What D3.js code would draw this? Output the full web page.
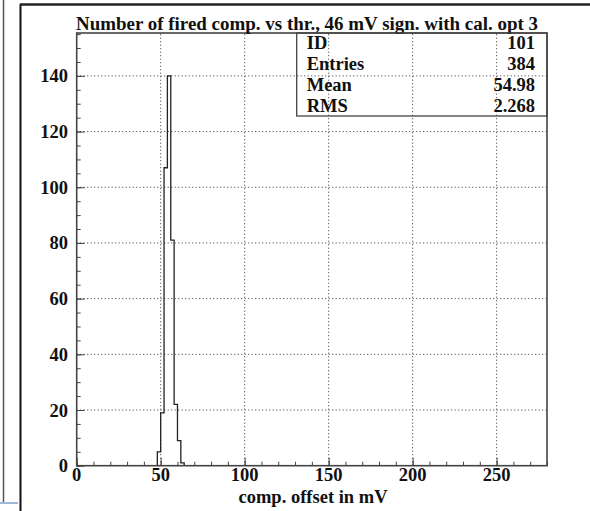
<!DOCTYPE html>
<html>
<head>
<meta charset="utf-8">
<script src="https://cdn.jsdelivr.net/npm/d3@7"></script>
<style>
  body { margin: 0; background: #fff; }
  svg { display: block; }
  text { font-family: "Liberation Serif", "Times New Roman", serif; font-weight: bold; fill: #111; }
</style>
</head>
<body>
<svg id="chart" width="590" height="511"></svg>
<script>
// histogram data (bin width 2 mV)
const binLow = [48, 50, 52, 54, 56, 58, 60, 62];
const counts = [5, 19, 107, 140, 81, 22, 9, 1];
const binWidth = 2;

// tick labels
const xMajor = [0, 50, 100, 150, 200, 250];
const yMajor = [0, 20, 40, 60, 80, 100, 120, 140];

// stats box
const statLabels = ["ID", "Entries", "Mean", "RMS"];
const statValues = ["101", "384", "54.98", "2.268"];

const title = "Number of fired comp. vs thr., 46 mV sign. with cal. opt 3";
const xTitle = "comp. offset in mV";

const svg = d3.select("#chart");

// frame position
const fLeft = 76.7, fRight = 547, fTop = 33, fBottom = 465.7;

const xScale = d3.scaleLinear().domain([0, 280]).range([fLeft, fRight]);
const yScale = d3.scaleLinear().domain([0, 155.4]).range([fBottom, fTop]);

// window decorations on the left
svg.append("line")
  .attr("x1", 3.5).attr("x2", 3.5).attr("y1", 0).attr("y2", 502)
  .attr("stroke", "#555").attr("stroke-width", 1.5);
svg.append("line")
  .attr("x1", 0).attr("x2", 18).attr("y1", 503).attr("y2", 503)
  .attr("stroke", "#9bb8d8").attr("stroke-width", 2);
svg.append("line")
  .attr("x1", 20.5).attr("x2", 20.5).attr("y1", 4).attr("y2", 511)
  .attr("stroke", "#111").attr("stroke-width", 2);
svg.append("line")
  .attr("x1", 20).attr("x2", 590).attr("y1", 4.5).attr("y2", 4.5)
  .attr("stroke", "#222").attr("stroke-width", 2.5);

// grid
const grid = svg.append("g")
  .attr("stroke", "#333")
  .attr("stroke-width", 1)
  .attr("stroke-dasharray", "1,2.5");

grid.selectAll(".gx")
  .data(xMajor.filter((d) => d > 0))
  .join("line")
  .attr("x1", (d) => xScale(d)).attr("x2", (d) => xScale(d))
  .attr("y1", fBottom).attr("y2", fTop);

grid.selectAll(".gy")
  .data(yMajor.filter((d) => d > 0))
  .join("line")
  .attr("x1", fLeft).attr("x2", fRight)
  .attr("y1", (d) => yScale(d)).attr("y2", (d) => yScale(d));

// histogram outline
const pts = [[xScale(binLow[0]), yScale(0)]];
binLow.forEach((b, i) => {
  pts.push([xScale(b), yScale(counts[i])]);
  pts.push([xScale(b + binWidth), yScale(counts[i])]);
});
pts.push([xScale(binLow[binLow.length - 1] + binWidth), yScale(0)]);

svg.append("path")
  .datum(pts)
  .attr("fill", "none")
  .attr("stroke", "#222")
  .attr("stroke-width", 1.3)
  .attr("d", d3.line());

// frame
svg.append("rect")
  .attr("x", fLeft).attr("y", fTop)
  .attr("width", fRight - fLeft).attr("height", fBottom - fTop)
  .attr("fill", "none")
  .attr("stroke", "#444")
  .attr("stroke-width", 1.6);

// x axis
const xAxis = svg.append("g").attr("transform", `translate(0,${fBottom})`);
xAxis.append("g").call(d3.axisBottom(xScale).tickValues(d3.range(0, 281, 10)).tickSize(-4).tickFormat(""));
xAxis.append("g").call(d3.axisBottom(xScale).tickValues(xMajor).tickSize(-8).tickFormat(""));
xAxis.selectAll(".domain").remove();
xAxis.selectAll("line").attr("stroke", "#444");

svg.selectAll(".xlab")
  .data(xMajor)
  .join("text")
  .attr("class", "xlab")
  .attr("x", (d) => xScale(d))
  .attr("y", 481)
  .attr("text-anchor", "middle")
  .style("font-size", "18.5px")
  .text((d) => d);

// y axis
const yAxis = svg.append("g").attr("transform", `translate(${fLeft},0)`);
yAxis.append("g").call(d3.axisLeft(yScale).tickValues(d3.range(0, 156, 5)).tickSize(-4).tickFormat(""));
yAxis.append("g").call(d3.axisLeft(yScale).tickValues(yMajor).tickSize(-8).tickFormat(""));
yAxis.selectAll(".domain").remove();
yAxis.selectAll("line").attr("stroke", "#444");

svg.selectAll(".ylab")
  .data(yMajor)
  .join("text")
  .attr("class", "ylab")
  .attr("x", 68)
  .attr("y", (d) => yScale(d) + 6.5)
  .attr("text-anchor", "end")
  .style("font-size", "18.5px")
  .text((d) => d);

// titles
svg.append("text")
  .attr("x", 76)
  .attr("y", 30)
  .attr("textLength", 462)
  .attr("lengthAdjust", "spacingAndGlyphs")
  .style("font-size", "18.4px")
  .text(title);

svg.append("text")
  .attr("x", 313)
  .attr("y", 503)
  .attr("text-anchor", "middle")
  .style("font-size", "18.5px")
  .text(xTitle);

// stats box
const boxX = 296.7, boxH = 83;
svg.append("rect")
  .attr("x", boxX).attr("y", fTop)
  .attr("width", fRight - boxX).attr("height", boxH)
  .attr("fill", "none")
  .attr("stroke", "#444")
  .attr("stroke-width", 1.3);

svg.selectAll(".slab")
  .data(statLabels)
  .join("text")
  .attr("class", "slab")
  .attr("x", 306.7)
  .attr("y", (d, i) => 49 + i * 21)
  .style("font-size", "18.5px")
  .text((d) => d);

svg.selectAll(".sval")
  .data(statValues)
  .join("text")
  .attr("class", "sval")
  .attr("x", 535)
  .attr("y", (d, i) => 49 + i * 21)
  .attr("text-anchor", "end")
  .style("font-size", "18.5px")
  .text((d) => d);
</script>
</body>
</html>
